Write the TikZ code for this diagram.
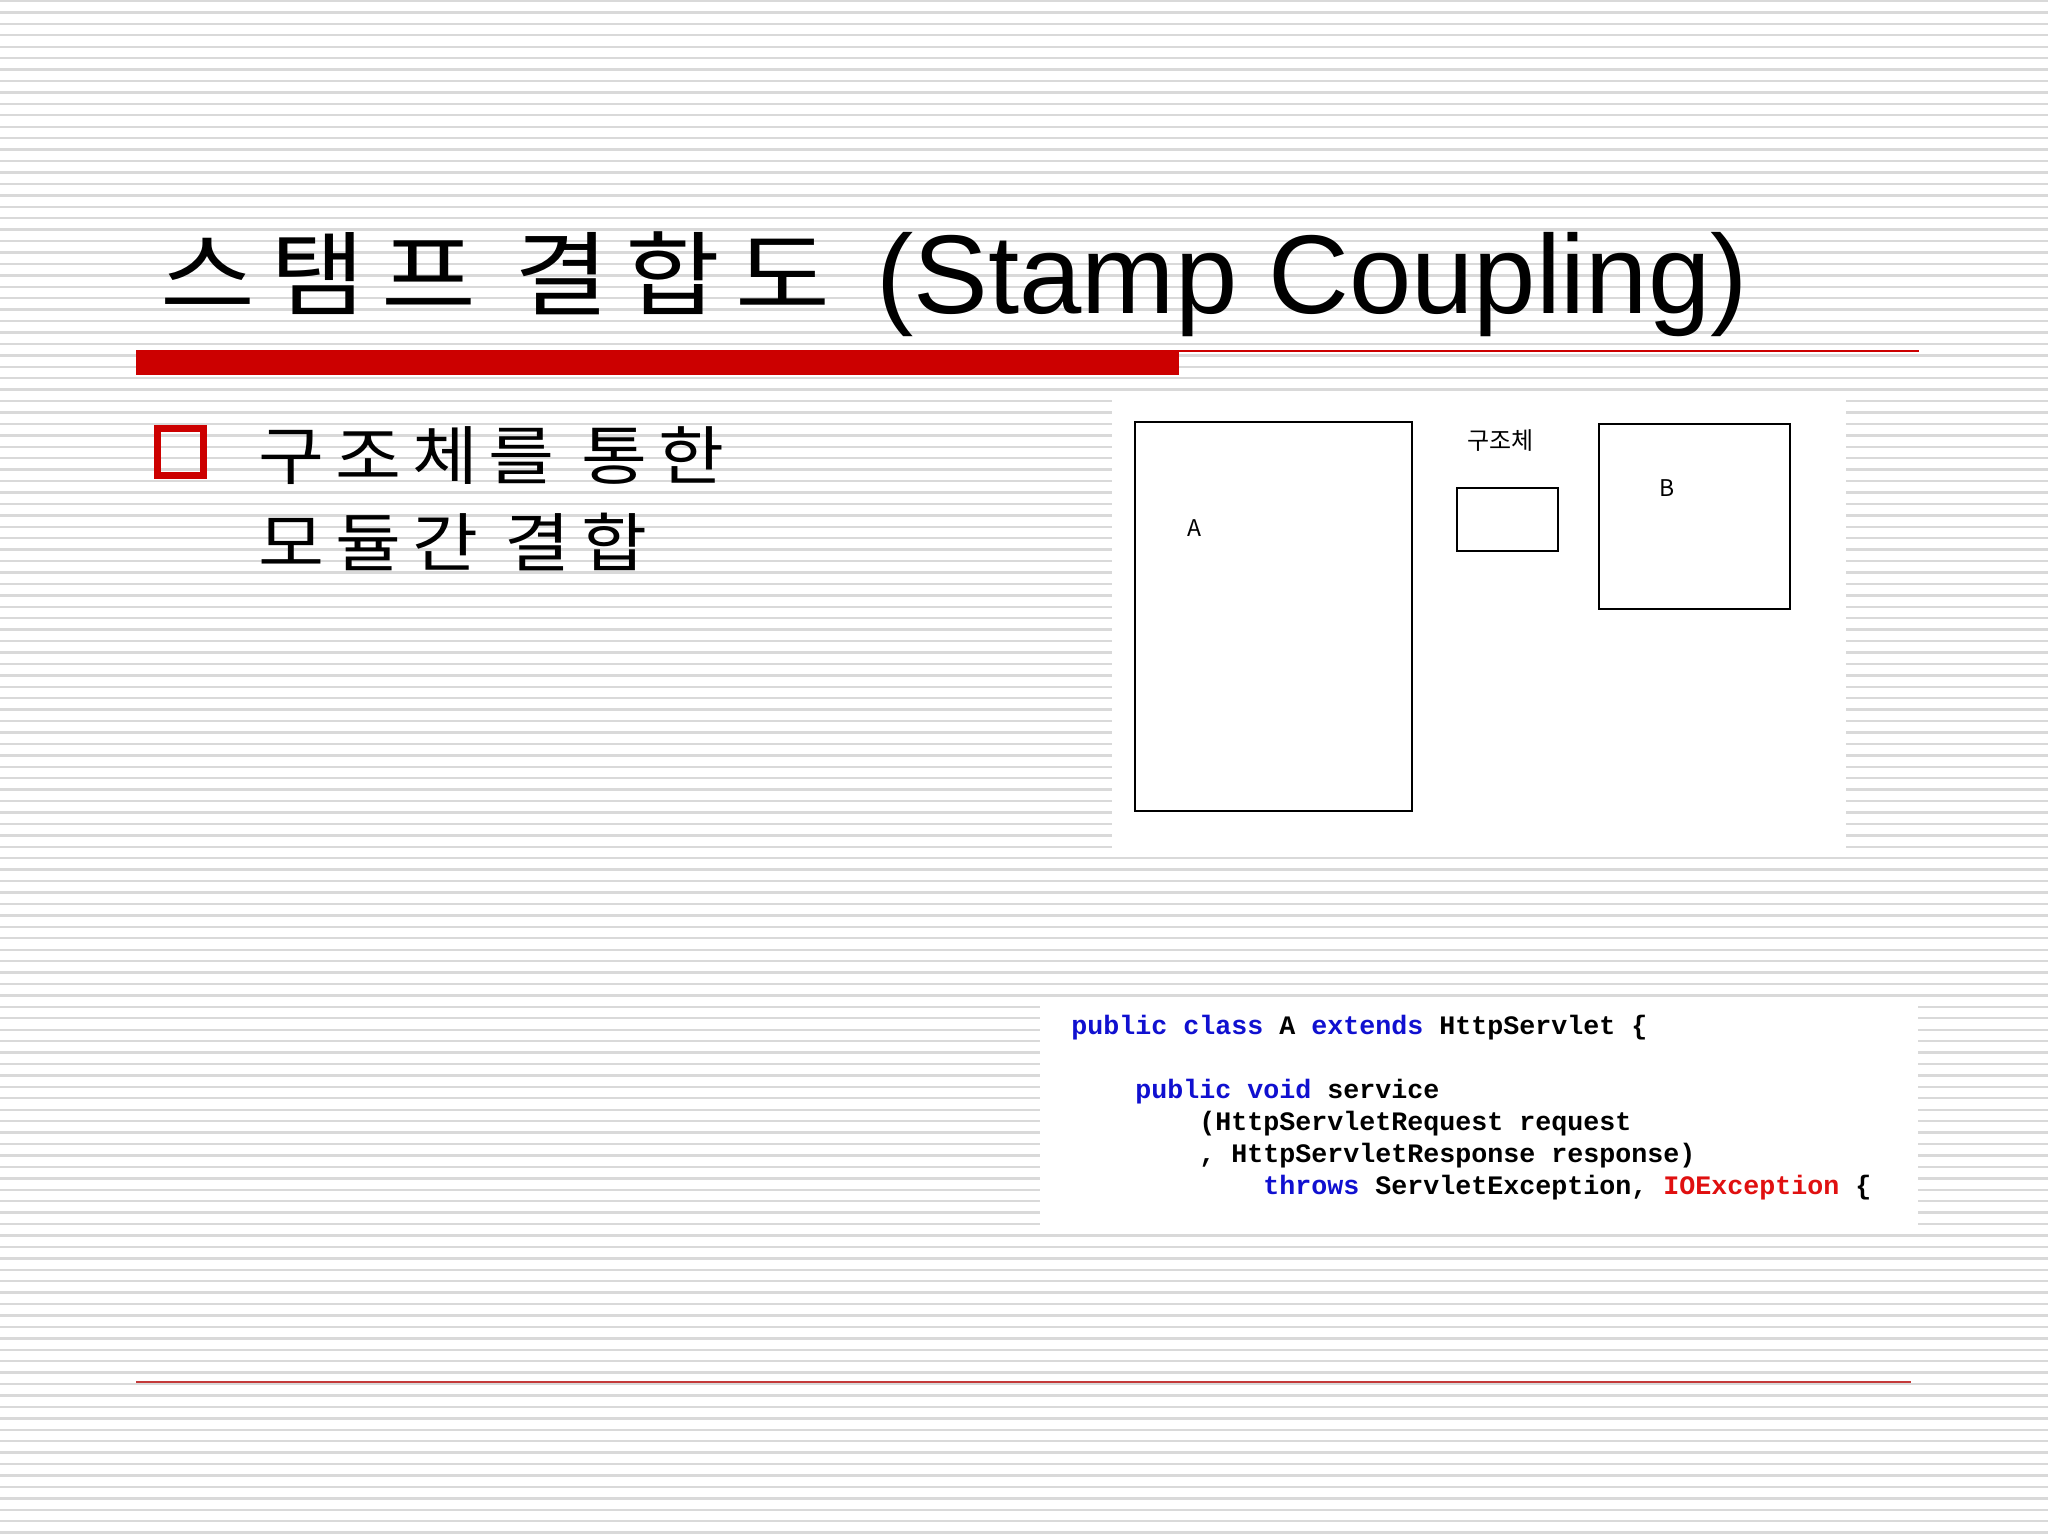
\documentclass[tikz,border=0pt]{standalone}
\usepackage{fontspec}
\newfontfamily\krfont{Noto Sans CJK KR}
\newfontfamily\krspaced{Noto Sans CJK KR}[FakeStretch=1.12, LetterSpace=17]
\newfontfamily\lsfont{Liberation Sans}
\newfontfamily\codefont{Liberation Mono}
\definecolor{slidered}{HTML}{CC0000}
\definecolor{stripegray}{HTML}{D9D9D9}
\definecolor{kwblue}{HTML}{1010D0}
\definecolor{exred}{HTML}{E01010}
\definecolor{footred}{HTML}{C43A3A}
\newcommand{\kw}[1]{\textcolor{kwblue}{#1}}
\begin{document}
\begin{tikzpicture}[x=0.5pt,y=-0.5pt,
  stripe/.style={draw=stripegray, line width=1.2pt},
  panel/.style={fill=white},
  titlekr/.style={font=\krspaced\fontsize{46pt}{54pt}\selectfont, inner sep=0pt, anchor=base west},
  titleen/.style={font=\lsfont\fontsize{56pt}{60pt}\selectfont, inner sep=0pt, anchor=base west},
  bullettext/.style={font=\krspaced\fontsize{32pt}{40pt}\selectfont, inner sep=0pt, anchor=base west},
  umlbox/.style={draw=black, line width=1pt, fill=white, inner sep=0pt},
  smalllabel/.style={font=\krfont\fontsize{11.5pt}{13pt}\selectfont, inner sep=0pt},
  structlabel/.style={font=\krfont\fontsize{12pt}{14pt}\selectfont, inner sep=0pt},
  codeline/.style={font=\codefont\bfseries\fontsize{13.33pt}{16pt}\selectfont, inner sep=0pt, anchor=base west}
]
\useasboundingbox (0,0) rectangle (2048,1536);
\fill[white] (0,0) rectangle (2048,1536);
% background stripes
\foreach \k in {0,...,134} {
  \draw[stripe] (0,{1+11.43*\k}) -- (2048,{1+11.43*\k});
}
% white panels
\fill[panel] (1112,396) rectangle (1846,852);
\fill[panel] (1040,998) rectangle (1918,1233);
% title rule
\fill[slidered] (136,350) rectangle (1179,375);
\draw[slidered, line width=0.75pt] (1179,351) -- (1919,351);
% footer rule
\draw[footred, line width=0.7pt] (136,1382) -- (1911,1382);
% title
\node[titlekr] (titleko) at (160,308) {스탬프 결합도};
\node[titleen] (titleeng) at (876,313) {(Stamp Coupling)};
% bullet
\draw[slidered, line width=3.5pt] (157.5,428) rectangle (203.5,475.5);
\node[bullettext] (bline1) at (258,479) {구조체를 통한};
\node[bullettext] (bline2) at (258,566) {모듈간 결합};
% diagram
\node[umlbox, minimum width=138.5pt, minimum height=194.5pt] (boxA) at (1273.5,616.5) {};
\node[umlbox, minimum width=50.5pt, minimum height=31.5pt] (struct) at (1507.5,519.5) {};
\node[umlbox, minimum width=95.5pt, minimum height=92.5pt] (boxB) at (1694.5,516.5) {};
\node[smalllabel] (labA) at (1194,528) {A};
\node[smalllabel] (labB) at (1667,488) {B};
\node[structlabel, anchor=west] (labS) at (1467,441) {구조체};
% code
\node[codeline] (c1) at (1071,1034) {\kw{public} \kw{class} A \kw{extends} HttpServlet \{};
\node[codeline] (c3) at (1135,1098) {\kw{public} \kw{void} service};
\node[codeline] (c4) at (1199,1130) {(HttpServletRequest request};
\node[codeline] (c5) at (1199,1162) {, HttpServletResponse response)};
\node[codeline] (c6) at (1263,1194) {\kw{throws} ServletException, \textcolor{exred}{IOException} \{};
\end{tikzpicture}
\end{document}
